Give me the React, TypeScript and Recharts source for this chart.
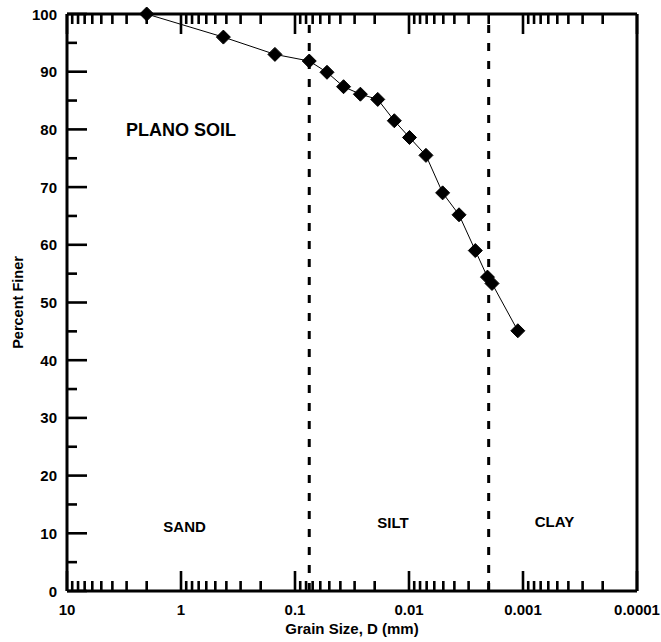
import { LineChart, Line, XAxis, YAxis, ReferenceLine, ReferenceDot, Label } from 'recharts'

// grain size distribution, Plano soil
const grainSize = [
  2.0, 0.425, 0.15, 0.075, 0.0524, 0.0375, 0.0267, 0.0188, 0.01345, 0.0099, 0.0071, 0.00507,
  0.00364, 0.00262, 0.00205, 0.00187, 0.00111,
]
const percentFiner = [
  100, 96.0, 93.0, 91.85, 89.9, 87.4, 86.1, 85.2, 81.5, 78.6, 75.5, 69.0, 65.2, 59.0, 54.4, 53.3,
  45.1,
]

const majorX = [10, 1, 0.1, 0.01, 0.001, 0.0001]
const majorXLabels = ['10', '1', '0.1', '0.01', '0.001', '0.0001']
const minorMult = [2, 3, 4, 5, 6, 7, 8, 9]
const majorY = [0, 10, 20, 30, 40, 50, 60, 70, 80, 90, 100]
const minorY = [5, 15, 25, 35, 45, 55, 65, 75, 85, 95]

// boundaries: sand/silt 0.075 mm, silt/clay 0.002 mm
const boundaries = [0.075, 0.002]

const zones = [
  { name: 'SAND', x: 0.93, y: 11.1 },
  { name: 'SILT', x: 0.0138, y: 11.8 },
  { name: 'CLAY', x: 0.00053, y: 12 },
]

const data = grainSize.map((d, i) => ({ size: d, pct: percentFiner[i] }))

const xTicks = [
  ...majorX,
  ...majorX.slice(1).flatMap((m) => minorMult.map((k) => +(k * m).toPrecision(3))),
]
const yTicks = [...majorY, ...minorY]

const FONT = 'Arial, "Liberation Sans", sans-serif'
const MAJOR = 20
const MINOR = 10
const TICK_W = 2.6

function isMajorX(v: number) {
  return majorX.some((m) => Math.abs(v - m) < m * 1e-6)
}

function BottomTick(props: any) {
  const { x, y, payload } = props
  const v = payload.value
  const major = isMajorX(v)
  const idx = majorX.findIndex((m) => Math.abs(v - m) < m * 1e-6)
  return (
    <g>
      <line x1={x} y1={y} x2={x} y2={y - (major ? MAJOR : MINOR)} stroke="#000" strokeWidth={TICK_W} />
      {major && (
        <text
          x={x}
          y={y + 24}
          textAnchor="middle"
          fontFamily={FONT}
          fontWeight="bold"
          fontSize={15}
          fill="#000"
        >
          {majorXLabels[idx]}
        </text>
      )}
    </g>
  )
}

function TopTick(props: any) {
  const { x, y, payload } = props
  const major = isMajorX(payload.value)
  return (
    <line x1={x} y1={y} x2={x} y2={y + (major ? MAJOR : MINOR)} stroke="#000" strokeWidth={TICK_W} />
  )
}

function LeftTick(props: any) {
  const { x, y, payload } = props
  const major = payload.value % 10 === 0
  return (
    <g>
      <line x1={x} y1={y} x2={x + (major ? MAJOR : MINOR)} y2={y} stroke="#000" strokeWidth={TICK_W} />
      {major && (
        <text
          x={x - 10}
          y={y + 5.5}
          textAnchor="end"
          fontFamily={FONT}
          fontWeight="bold"
          fontSize={15}
          fill="#000"
        >
          {payload.value}
        </text>
      )}
    </g>
  )
}

function RightTick(props: any) {
  const { x, y, payload } = props
  const major = payload.value % 10 === 0
  return (
    <line x1={x} y1={y} x2={x - (major ? MAJOR : MINOR)} y2={y} stroke="#000" strokeWidth={TICK_W} />
  )
}

function Diamond(props: any) {
  const { cx, cy } = props
  if (cx == null || cy == null) return null
  const r = 7
  return (
    <polygon
      points={`${cx},${cy - r} ${cx + r},${cy} ${cx},${cy + r} ${cx - r},${cy}`}
      fill="#000"
      stroke="#000"
    />
  )
}

const axisLine = { stroke: '#000', strokeWidth: 3 }

export default function App() {
  return (
    <div style={{ position: 'absolute', left: 0, top: 0, background: '#fff' }}>
      <LineChart
        width={661}
        height={642}
        data={data}
        margin={{ top: 9, right: 14, bottom: 6, left: 7 }}
      >
        <XAxis
          xAxisId="bottom"
          dataKey="size"
          type="number"
          scale="log"
          domain={[0.0001, 10]}
          reversed
          allowDataOverflow
          ticks={xTicks}
          interval={0}
          tickSize={0}
          tickMargin={0}
          tickLine={false}
          axisLine={axisLine}
          tick={<BottomTick />}
          height={45}
        >
          <Label
            content={(p: any) => {
              const vb = p.viewBox
              return (
                <text
                  x={vb.x + vb.width / 2}
                  y={vb.y + 43}
                  textAnchor="middle"
                  fontFamily={FONT}
                  fontWeight="bold"
                  fontSize={15}
                  fill="#000"
                >
                  Grain Size, D (mm)
                </text>
              )
            }}
          />
        </XAxis>
        <XAxis
          xAxisId="top"
          orientation="top"
          dataKey="size"
          type="number"
          scale="log"
          domain={[0.0001, 10]}
          reversed
          allowDataOverflow
          ticks={xTicks}
          interval={0}
          tickSize={0}
          tickMargin={0}
          tickLine={false}
          axisLine={axisLine}
          tick={<TopTick />}
          height={5}
        />
        <YAxis
          yAxisId="left"
          type="number"
          domain={[0, 100]}
          ticks={yTicks}
          interval={0}
          tickSize={0}
          tickMargin={0}
          tickLine={false}
          axisLine={axisLine}
          tick={<LeftTick />}
          width={60}
        >
          <Label
            content={(p: any) => {
              const vb = p.viewBox
              const cx = vb.x + 11
              const cy = vb.y + vb.height / 2
              return (
                <text
                  x={cx}
                  y={cy}
                  transform={`rotate(-90 ${cx} ${cy})`}
                  textAnchor="middle"
                  dominantBaseline="central"
                  fontFamily={FONT}
                  fontWeight="bold"
                  fontSize={14.5}
                  fill="#000"
                >
                  Percent Finer
                </text>
              )
            }}
          />
        </YAxis>
        <YAxis
          yAxisId="right"
          orientation="right"
          type="number"
          domain={[0, 100]}
          ticks={yTicks}
          interval={0}
          tickSize={0}
          tickMargin={0}
          tickLine={false}
          axisLine={axisLine}
          tick={<RightTick />}
          width={10}
        />

        {boundaries.map((b) => (
          <ReferenceLine
            key={b}
            xAxisId="bottom"
            yAxisId="left"
            x={b}
            stroke="#000"
            strokeWidth={3}
            strokeDasharray="8 10"
          />
        ))}

        <ReferenceDot
          xAxisId="bottom"
          yAxisId="left"
          x={1}
          y={80}
          r={0}
          stroke="none"
          label={{
            value: 'PLANO SOIL',
            position: 'center',
            fill: '#000',
            fontSize: 18,
            fontWeight: 'bold',
            fontFamily: FONT,
          }}
        />
        {zones.map((z) => (
          <ReferenceDot
            key={z.name}
            xAxisId="bottom"
            yAxisId="left"
            x={z.x}
            y={z.y}
            r={0}
            stroke="none"
            label={{
              value: z.name,
              position: 'center',
              fill: '#000',
              fontSize: 15,
              fontWeight: 'bold',
              fontFamily: FONT,
            }}
          />
        ))}

        <Line
          xAxisId="bottom"
          yAxisId="left"
          dataKey="pct"
          stroke="#000"
          strokeWidth={1}
          dot={<Diamond />}
          activeDot={false}
          isAnimationActive={false}
        />
      </LineChart>
    </div>
  )
}
